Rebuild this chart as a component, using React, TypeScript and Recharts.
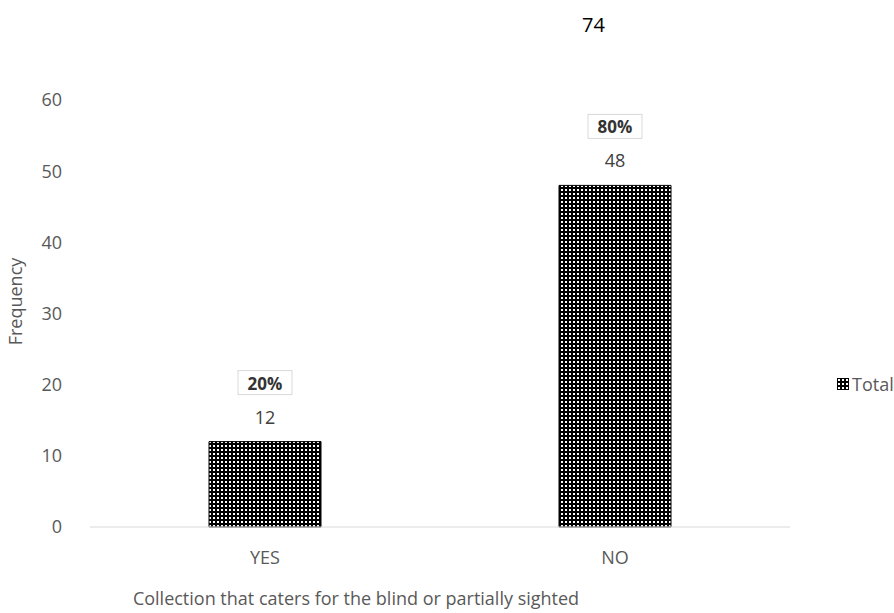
import { BarChart, Bar, XAxis, YAxis, LabelList } from 'recharts';

const categories = ['YES', 'NO'];
const totals = [12, 48];
const shares = ['20%', '80%'];
const yTicks = [0, 10, 20, 30, 40, 50, 60];

const data = categories.map((c, i) => ({ name: c, Total: totals[i], share: shares[i] }));

const FONT = '"Open Sans", "Noto Sans", sans-serif';
const GREY = '#595959';

function ValueLabel(props: any) {
  const { x, y, width, index } = props;
  const cx = x + width / 2;
  return (
    <g>
      <text x={cx} y={y - 18} textAnchor="middle" fontSize={18} fill="#404040" fontFamily={FONT}>
        {totals[index]}
      </text>
      <rect x={cx - 27} y={y - 71} width={54} height={24} fill="#fff" stroke="#d9d9d9" strokeWidth={1} />
      <text x={cx} y={y - 52} textAnchor="middle" fontSize={17} fontWeight="bold" fill="#333" fontFamily={FONT}>
        {shares[index]}
      </text>
    </g>
  );
}

export default function App() {
  return (
    <div style={{ position: 'absolute', left: 0, top: 0, width: 894, height: 613, background: '#fff' }}>
      <div style={{ position: 'absolute', left: 582, top: 11, fontFamily: FONT, fontSize: 20, color: '#000' }}>74</div>
      <BarChart width={894} height={613} data={data} margin={{ top: 100, right: 104, left: 0, bottom: 0 }}>
        <defs>
          <pattern id="dots" width={4} height={4} patternUnits="userSpaceOnUse">
            <rect width={4} height={4} fill="#000" />
            <rect x={1} y={1} width={2} height={2} fill="#fff" />
          </pattern>
        </defs>
        <XAxis
          dataKey="name"
          height={86}
          tickLine={false}
          axisLine={{ stroke: '#d9d9d9' }}
          tick={{ fontSize: 18, fill: GREY, fontFamily: FONT }}
          tickMargin={18}
          label={{ value: 'Collection that caters for the blind or partially sighted', position: 'insideBottom', offset: 8, dx: -84, fontSize: 18, fill: GREY, fontFamily: FONT }}
        />
        <YAxis
          width={90}
          domain={[0, 60]}
          ticks={yTicks}
          tickLine={false}
          axisLine={false}
          tick={{ fontSize: 18, fill: GREY, fontFamily: FONT }}
          tickMargin={22}
          label={{ value: 'Frequency', angle: -90, position: 'insideLeft', offset: 16, dy: -12, fontSize: 18, fill: GREY, fontFamily: FONT, style: { textAnchor: 'middle' } }}
        />
        <Bar dataKey="Total" fill="url(#dots)" stroke="#000" strokeWidth={1} barSize={112} isAnimationActive={false}>
          <LabelList dataKey="Total" content={<ValueLabel />} />
        </Bar>
      </BarChart>
      <div style={{ position: 'absolute', left: 837, top: 372, display: 'flex', alignItems: 'center', fontFamily: FONT, fontSize: 18, color: GREY }}>
        <svg width={12} height={12} style={{ marginRight: 3 }}>
          <rect x={0.5} y={0.5} width={11} height={11} fill="url(#dots)" stroke="#000" />
        </svg>
        Total
      </div>
    </div>
  );
}
